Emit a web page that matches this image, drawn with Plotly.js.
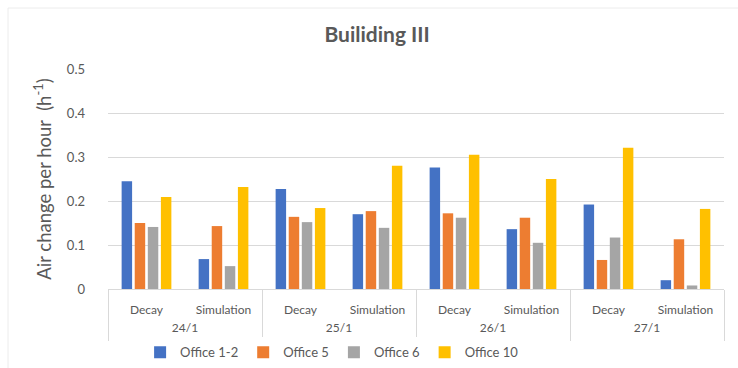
<!DOCTYPE html>
<html>
<head>
<meta charset="utf-8">
<script src="https://cdn.plot.ly/plotly-3.0.1.min.js"></script>
<style>html,body{margin:0;padding:0;background:#fff;}#chart{width:738px;height:368px;}</style>
</head>
<body>
<div id="chart"></div>
<script>
const dates = ["24/1","24/1","25/1","25/1","26/1","26/1","27/1","27/1"];
const methods = ["Decay","Simulation","Decay","Simulation","Decay","Simulation","Decay","Simulation"];
const dateGroups = ["24/1","25/1","26/1","27/1"];
const seriesNames = ["Office 1-2","Office 5","Office 6","Office 10"];
const office12 = [0.245,0.068,0.227,0.170,0.276,0.136,0.192,0.020];
const office5  = [0.150,0.143,0.164,0.177,0.172,0.162,0.066,0.113];
const office6  = [0.141,0.052,0.152,0.139,0.162,0.105,0.117,0.008];
const office10 = [0.209,0.232,0.184,0.280,0.305,0.250,0.321,0.182];
const colors = ["#4472C4","#ED7D31","#A5A5A5","#FFC000"];
const yTicks = [0,0.1,0.2,0.3,0.4,0.5];
const yTickLabels = ["0","0.1","0.2","0.3","0.4","0.5"];

const cats = dates.map((d, i) => d + " " + methods[i]);
const allValues = [office12, office5, office6, office10];
const traces = allValues.map((vals, i) => ({
  type: "bar",
  name: seriesNames[i],
  x: cats,
  y: vals,
  marker: {color: colors[i]},
  hoverinfo: "y"
}));
// empty helper trace so the date-level axis (x2) is drawn
traces.push({type: "scatter", mode: "none", x: [], y: [], xaxis: "x2", yaxis: "y",
             showlegend: false, hoverinfo: "skip"});

// group centres and boundaries on the index scale of the category axis
const per = methods.length / dateGroups.length;
const groupCentres = dateGroups.map((g, k) => k * per + (per - 1) / 2);
const groupEdges = dateGroups.map((g, k) => k * per - 0.5).concat([methods.length - 0.5]);

const font = "Lato, 'Open Sans', sans-serif";
const grey = "#595959";
const layout = {
  width: 738, height: 368,
  margin: {l: 108, r: 14, t: 69, b: 79},
  paper_bgcolor: "#fff", plot_bgcolor: "#fff",
  font: {family: font, color: grey, size: 11},
  title: {text: "<b>Builiding III</b>", x: 0.511, xref: "container", xanchor: "center", y: 0.905, yanchor: "middle",
          font: {family: font, size: 21, color: grey}},
  bargap: 0.32, bargroupgap: 0.2,
  showlegend: true,
  legend: {orientation: "h", x: 0.45, xref: "container", xanchor: "center", y: 0.043, yref: "container", yanchor: "middle",
           font: {family: font, size: 13, color: grey}, itemwidth: 30, tracegroupgap: 0},
  shapes: [{type: "rect", xref: "paper", yref: "paper", layer: "below",
            x0: -100/616, x1: 1.05, y0: -0.6, y1: 281/220,
            line: {color: "#ececec", width: 1}, fillcolor: "rgba(0,0,0,0)"}],
  xaxis: {type: "category", categoryorder: "array", categoryarray: cats,
          tickmode: "array", tickvals: cats, ticktext: methods,
          showgrid: false, showline: true, linecolor: "#d9d9d9", automargin: false,
          ticks: "", ticklabelstandoff: 10, range: [-0.5, methods.length - 0.5],
          tickfont: {family: font, size: 12, color: grey}},
  xaxis2: {overlaying: "x", anchor: "y", side: "bottom", type: "linear", range: [-0.5, methods.length - 0.5],
           tickmode: "array", tickvals: groupCentres, ticktext: dateGroups, ticks: "",
           ticklabelstandoff: 30, showgrid: false, zeroline: false, showline: false, automargin: false,
           tickfont: {family: font, size: 12, color: grey},
           minor: {tickmode: "array", tickvals: groupEdges, ticks: "outside", ticklen: 51, tickwidth: 1,
                   tickcolor: "#d9d9d9", showgrid: false}},
  yaxis: {range: [0, 0.5], tickvals: yTicks, ticktext: yTickLabels, showgrid: true, automargin: false,
          gridcolor: "#d9d9d9", zeroline: false, showline: false, ticks: "",
          ticklabelstandoff: 22,
          tickfont: {family: font, size: 13, color: grey},
          title: {text: "Air change per hour  (h<sup>-1</sup>)", standoff: 10,
                  font: {family: font, size: 18.5, color: grey}}}
};
Plotly.newPlot("chart", traces, layout, {displayModeBar: false, staticPlot: true});
</script>
</body>
</html>
